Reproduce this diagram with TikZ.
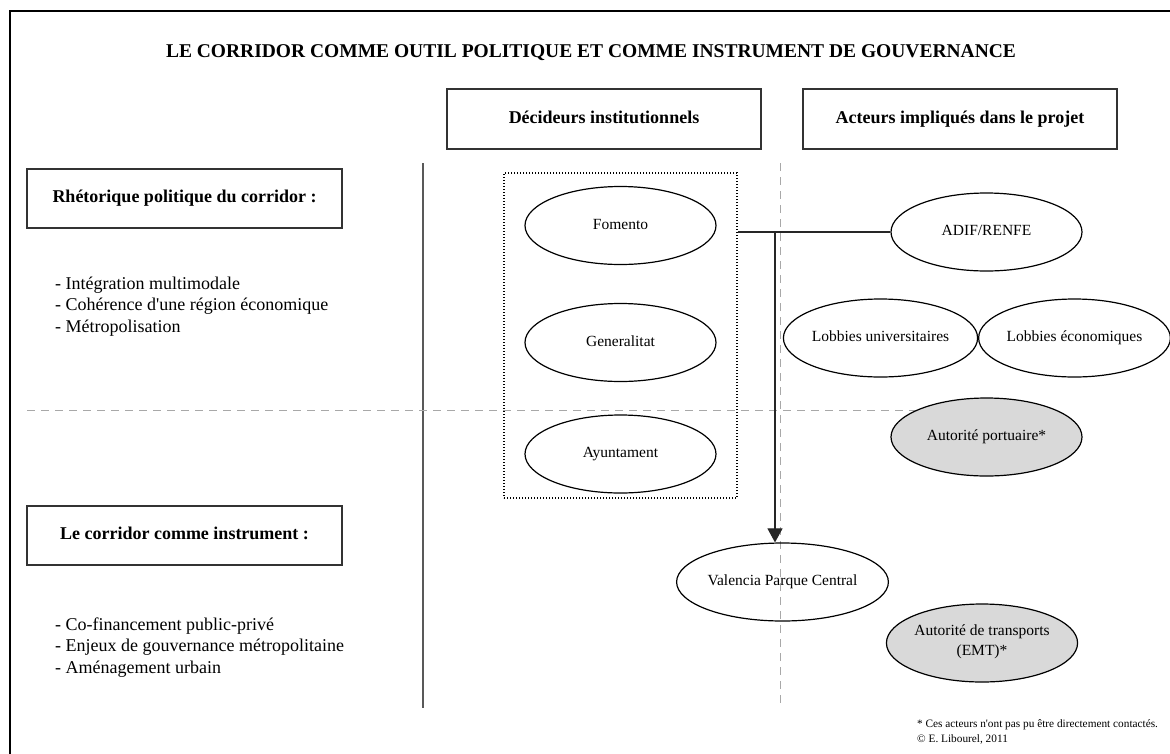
\documentclass[tikz,border=0pt]{standalone}
\usepackage{fontspec}
\setmainfont{Liberation Serif}
\usetikzlibrary{arrows.meta,shapes.geometric}
\definecolor{boxline}{HTML}{333333}
\definecolor{dashgray}{HTML}{A8A8A8}
\definecolor{ellfill}{HTML}{D9D9D9}
\newcommand{\apos}{\textquotesingle}
\tikzset{
  hdrbox/.style={draw=boxline, line width=1.3pt, minimum width=314pt, minimum height=60pt, inner sep=0pt,
    font=\fontsize{18}{21.6}\selectfont\bfseries, text height=12.5pt, text depth=4pt},
  actor/.style={draw=black, line width=1.2pt, ellipse, minimum width=191pt, minimum height=78pt, inner sep=0pt,
    font=\fontsize{15.5}{19.5}\selectfont, align=center, execute at begin node=\strut},
  greyactor/.style={actor, fill=ellfill},
  listitem/.style={anchor=base west, inner sep=0pt, font=\fontsize{18}{21.6}\selectfont},
  notetext/.style={anchor=base west, inner sep=0pt, font=\fontsize{11.3}{13}\selectfont},
  sepdash/.style={draw=dashgray, line width=1.4pt, dash pattern=on 8pt off 6pt},
  dotframe/.style={draw=black, line width=1.2pt, dash pattern=on 1.4pt off 1.6pt, minimum width=233pt, minimum height=325pt, inner sep=0pt},
  link/.style={draw=black!85, line width=1.1pt},
}
\begin{document}
\begin{tikzpicture}[x=1pt,y=-1pt]
\useasboundingbox (0,0) rectangle (1170,753);
\fill[white] (0,0) rectangle (1170,753);
% outer frame (right and bottom sides lie outside the picture)
\draw[line width=2.6pt, black] (10,770) -- (10,11) -- (1190,11);

% title
\node[anchor=base, inner sep=0pt, font=\fontsize{19.5}{23}\selectfont\bfseries] (title) at (591,57)
  {LE CORRIDOR COMME OUTIL POLITIQUE ET COMME INSTRUMENT DE GOUVERNANCE};

% column headers
\node[hdrbox] (hdec) at (604,119) {Décideurs institutionnels};
\node[hdrbox] (hact) at (960,119) {Acteurs impliqués dans le projet};

% left boxes
\node[hdrbox, minimum width=315pt, minimum height=59pt] (rheto) at (184.5,198.5) {Rhétorique politique du corridor :};
\node[hdrbox, minimum width=315pt, minimum height=59pt] (instr) at (184.5,535.5) {Le corridor comme instrument :};

% lists
\node[listitem] (l1) at (55,289) {- Intégration multimodale};
\node[listitem] (l2) at (55,310.5) {- Cohérence d\apos une région économique};
\node[listitem] (l3) at (55,332) {- Métropolisation};
\node[listitem] (m1) at (55,630) {- Co-financement public-privé};
\node[listitem] (m2) at (55,651.5) {- Enjeux de gouvernance métropolitaine};
\node[listitem] (m3) at (55,673) {- Aménagement urbain};

% separators
\coordinate (vsTop) at (422.5,163);
\coordinate (vsBot) at (422.5,708);
\draw[draw=black!65, line width=2pt] (vsTop) -- (vsBot);
\coordinate (vdTop) at (780.5,163);
\coordinate (vdBot) at (780.5,708);
\draw[sepdash] (vdTop) -- (vdBot);
\coordinate (hdL) at (27,410.5);
\coordinate (hdR) at (986,410.5);
\draw[sepdash] (hdL) -- (hdR);

% institutional deciders
\node[dotframe] (dec) at (620.5,335.5) {};
\node[actor] (fomento) at (620.5,225.5) {Fomento};
\node[actor] (gen) at (620.5,342.5) {Generalitat};
\node[actor] (ayu) at (620.5,454) {Ayuntament};

% project actors
\node[actor] (adif) at (986.5,232) {ADIF/RENFE};
\node[actor] (lobu) at (880.5,338) {Lobbies universitaires};
\node[actor] (lobe) at (1074.5,338) {Lobbies économiques};
\node[greyactor] (port) at (986.5,437) {Autorité portuaire*};
\node[actor] (vpc) at (782.5,582) {Valencia Parque Central};
\node[greyactor] (emt) at (982,643) {Autorité de transports\\(EMT)*};

% connectors
\draw[link] (dec.east |- adif.west) -- (adif.west);
\coordinate (junc) at (775,232);
\draw[link, -{Triangle[width=15pt,length=14pt]}] (junc) -- (junc |- vpc.north);

% footnote
\node[notetext] (fn1) at (917,727) {* Ces acteurs n\apos ont pas pu être directement contactés.};
\node[notetext] (fn2) at (917,742) {© E. Libourel, 2011};
\end{tikzpicture}
\end{document}
